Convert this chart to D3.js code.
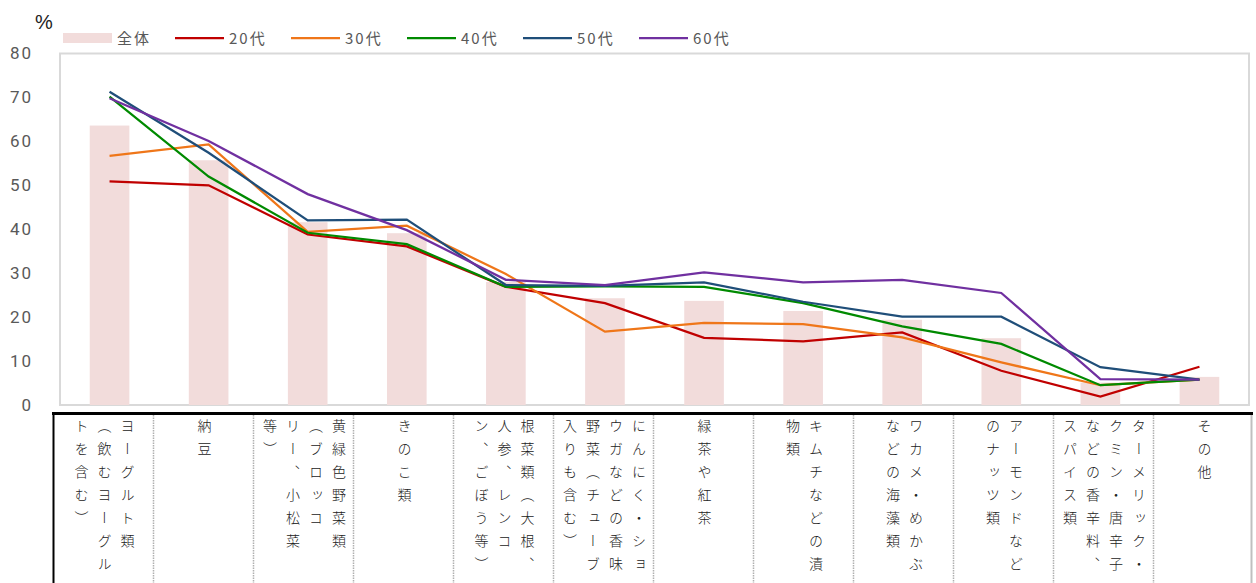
<!DOCTYPE html>
<html>
<head>
<meta charset="utf-8">
<script src="https://cdn.jsdelivr.net/npm/d3@7"></script>
<style>
  body { margin: 0; background: #fff; }
  #canvas { position: relative; width: 1256px; height: 583px; overflow: hidden; }
  #canvas svg { position: absolute; left: 0; top: 0; }
  .cell {
    position: absolute; top: 415px; height: 168px; width: 100px;
    display: flex; justify-content: center; box-sizing: border-box;
  }
  .cell .txt {
    writing-mode: vertical-rl; white-space: pre;
    font-family: "Noto Sans CJK JP", sans-serif; font-size: 14px; font-weight: 300;
    line-height: 23px; letter-spacing: 9px; color: #222;
    padding-top: 4px;
  }
</style>
</head>
<body>
<div id="canvas"></div>
<script>
const width = 1256;
const height = 583;

// data
const categories = [
    "ヨーグルト類\n（飲むヨーグル\nトを含む）",
    "納豆",
    "黄緑色野菜類\n（ブロッコ\nリー、小松菜\n等）",
    "きのこ類",
    "根菜類（大根、\n人参、レンコ\nン、ごぼう等）",
    "にんにく・ショ\nウガなどの香味\n野菜（チューブ\n入りも含む）",
    "緑茶や紅茶",
    "キムチなどの漬\n物類",
    "ワカメ・めかぶ\nなどの海藻類",
    "アーモンドなど\nのナッツ類",
    "ターメリック・\nクミン・唐辛子\nなどの香辛料、\nスパイス類",
    "その他"
];
const total = [63.6, 55.7, 41.6, 39.1, 28.0, 24.3, 23.7, 21.4, 19.4, 15.2, 5.1, 6.4];
const age20 = [50.9, 50.0, 38.8, 36.1, 26.9, 23.2, 15.3, 14.5, 16.5, 7.8, 1.9, 8.7];
const age30 = [56.7, 59.3, 39.4, 40.8, 29.8, 16.7, 18.7, 18.4, 15.4, 9.7, 4.5, 5.8];
const age40 = [70.2, 52.0, 39.2, 36.6, 26.9, 27.0, 26.9, 23.2, 17.9, 13.9, 4.5, 5.8];
const age50 = [71.3, 57.4, 42.0, 42.2, 27.3, 27.1, 27.9, 23.5, 20.1, 20.1, 8.6, 5.8];
const age60 = [69.8, 60.1, 48.0, 39.8, 28.5, 27.3, 30.2, 27.9, 28.5, 25.5, 5.9, 5.8];
const yTicks = [0, 10, 20, 30, 40, 50, 60, 70, 80];
const seriesNames = ["全体", "20代", "30代", "40代", "50代", "60代"];

const lineSeries = [
    {name: "20代", values: age20, color: "#c00000"},
    {name: "30代", values: age30, color: "#ef7619"},
    {name: "40代", values: age40, color: "#008a00"},
    {name: "50代", values: age50, color: "#1f4e79"},
    {name: "60代", values: age60, color: "#7030a0"}
];

const svg = d3.select("#canvas")
    .append("svg")
    .attr("width", width)
    .attr("height", height);

const x = d3.scaleBand()
    .domain(categories)
    .range([60, 1249])
    .paddingInner(0.6)
    .paddingOuter(0.3);

const xc = d3.scalePoint()
    .domain(categories)
    .range([60, 1249])
    .padding(0.5);

const y = d3.scaleLinear()
    .domain([0, 80])
    .range([405, 53.5]);

// plot frame
svg.append("rect")
    .attr("x", 60)
    .attr("y", 53.5)
    .attr("width", 1189)
    .attr("height", 351.5)
    .attr("fill", "none")
    .attr("stroke", "#d9d9d9")
    .attr("stroke-width", 2);

// y axis
const yAxis = svg.append("g")
    .attr("transform", "translate(33,0)")
    .call(d3.axisLeft(y).tickValues(yTicks).tickSize(0).tickPadding(0));
yAxis.select(".domain").remove();
yAxis.selectAll("text")
    .attr("fill", "#595959")
    .attr("font-family", "Roboto, sans-serif")
    .attr("font-size", 17)
    .attr("letter-spacing", 2);

svg.append("text")
    .attr("x", 44)
    .attr("y", 29)
    .attr("text-anchor", "middle")
    .attr("font-family", "'Liberation Sans Narrow', 'Liberation Sans', sans-serif")
    .attr("font-size", 20)
    .attr("fill", "#222")
    .text("%");

// bars (全体)
svg.selectAll(".bar")
    .data(total)
    .enter()
    .append("rect")
    .attr("class", "bar")
    .attr("x", (d, i) => x(categories[i]))
    .attr("width", x.bandwidth())
    .attr("y", d => y(d))
    .attr("height", d => y(0) - y(d))
    .attr("fill", "#f2dcdb");

// lines
const line = d3.line()
    .x((d, i) => xc(categories[i]))
    .y(d => y(d));

lineSeries.forEach(s => {
    svg.append("path")
        .attr("d", line(s.values))
        .attr("fill", "none")
        .attr("stroke", s.color)
        .attr("stroke-width", 2.25);
});

// legend
const legendColors = ["#f2dcdb"].concat(lineSeries.map(s => s.color));
seriesNames.forEach((name, i) => {
    let lx = i === 0 ? 63 : 175 + (i - 1) * 116;
    let g = svg.append("g").attr("transform", `translate(${lx},0)`);
    if (i === 0) {
        g.append("rect")
            .attr("x", 0).attr("y", 33)
            .attr("width", 49).attr("height", 10)
            .attr("fill", legendColors[i]);
    } else {
        g.append("line")
            .attr("x1", 0).attr("x2", 49)
            .attr("y1", 38).attr("y2", 38)
            .attr("stroke", legendColors[i])
            .attr("stroke-width", 2.25);
    }
    g.append("text")
        .attr("x", 54)
        .attr("y", 44)
        .attr("font-family", "'Noto Sans CJK JP', sans-serif")
        .attr("font-size", 15)
        .attr("letter-spacing", 2)
        .attr("fill", "#595959")
        .text(name);
});

// category table below the chart
svg.append("line")
    .attr("x1", 52).attr("x2", 1253)
    .attr("y1", 413.5).attr("y2", 413.5)
    .attr("stroke", "#000")
    .attr("stroke-width", 3);
svg.append("line")
    .attr("x1", 53.5).attr("x2", 53.5)
    .attr("y1", 412).attr("y2", 583)
    .attr("stroke", "#000")
    .attr("stroke-width", 2);
svg.append("line")
    .attr("x1", 1251.5).attr("x2", 1251.5)
    .attr("y1", 415).attr("y2", 583)
    .attr("stroke", "#bfbfbf")
    .attr("stroke-width", 2);

svg.selectAll(".divider")
    .data(categories.slice(1))
    .enter()
    .append("line")
    .attr("class", "divider")
    .attr("x1", (d, i) => 153.5 + i * 100)
    .attr("x2", (d, i) => 153.5 + i * 100)
    .attr("y1", 415).attr("y2", 583)
    .attr("stroke", "#b0b0b0")
    .attr("stroke-width", 1.5)
    .attr("stroke-dasharray", "1.5,1");

d3.select("#canvas").selectAll(".cell")
    .data(categories)
    .enter()
    .append("div")
    .attr("class", "cell")
    .style("left", (d, i) => (54 + i * 100) + "px")
    .append("div")
    .attr("class", "txt")
    .text(d => d);
</script>
</body>
</html>
